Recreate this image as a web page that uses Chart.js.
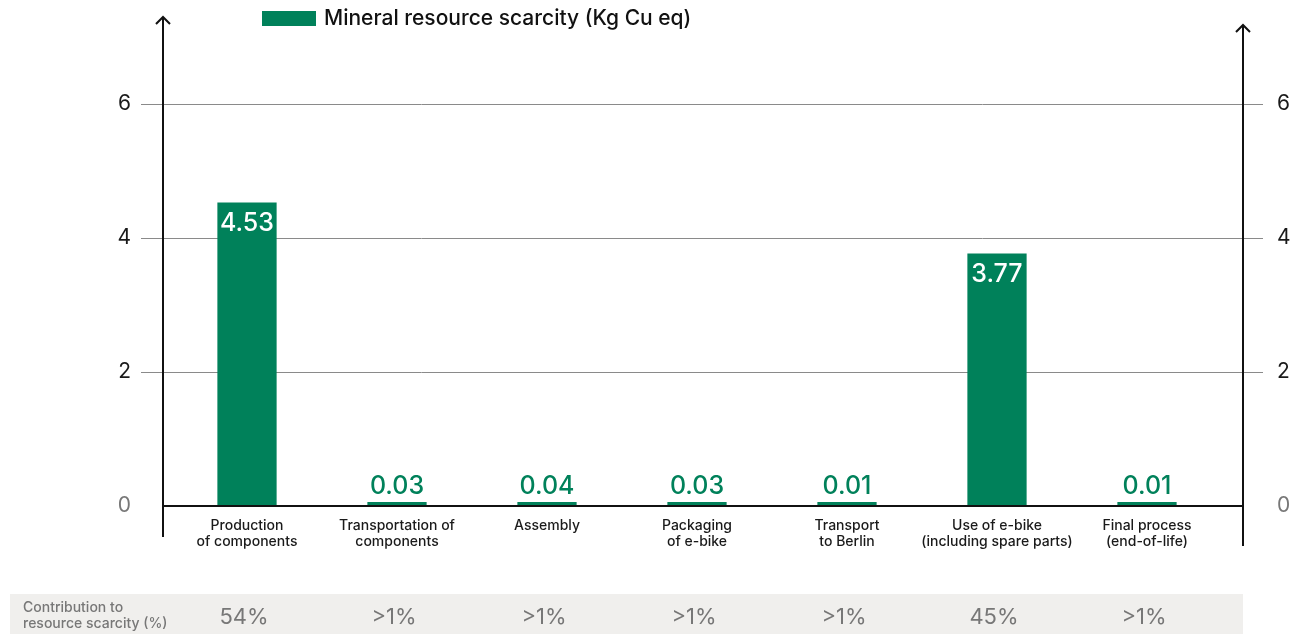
<!DOCTYPE html>
<html>
<head>
<meta charset="utf-8">
<script src="https://cdn.jsdelivr.net/npm/chart.js@4/dist/chart.umd.min.js"></script>
<style>
  body { margin: 0; background: #fff; }
  #wrap { width: 1306px; height: 634px; }
</style>
</head>
<body>
<div id="wrap"><canvas id="scarcityChart" width="1306" height="634"></canvas></div>
<script>
// Life-cycle stages and their mineral resource scarcity
const stages = [
    ['Production', 'of components'],
    ['Transportation of', 'components'],
    ['Assembly'],
    ['Packaging', 'of e-bike'],
    ['Transport', 'to Berlin'],
    ['Use of e-bike', '(including spare parts)'],
    ['Final process', '(end-of-life)']
];
const scarcity = [4.53, 0.03, 0.04, 0.03, 0.01, 3.77, 0.01];
const shares = ['54%', '>1%', '>1%', '>1%', '>1%', '45%', '>1%'];
const yTicks = [0, 2, 4, 6];
const seriesName = 'Mineral resource scarcity (Kg Cu eq)';
const shareTitle = ['Contribution to', 'resource scarcity (%)'];

const GREEN = '#00815a';
const FONT = 'Inter, "Noto Sans", sans-serif';

// keep tick padding from pushing the plot area around
function noEdgePadding(scale) {
    scale.paddingTop = 0;
    scale.paddingBottom = 0;
    scale.paddingLeft = 0;
    scale.paddingRight = 0;
}

const decor = {
    id: 'decor',
    beforeDatasetsDraw(chart) {
        const ctx = chart.ctx;
        const y = chart.scales.y;
        ctx.save();
        // share table band
        ctx.fillStyle = '#f0efed';
        ctx.fillRect(10, 594, 1233, 40);
        // horizontal gridlines
        ctx.strokeStyle = '#8a8a8a';
        ctx.lineWidth = 1;
        yTicks.forEach(v => {
            if (v === 0) return;
            const py = Math.round(y.getPixelForValue(v)) + 0.5;
            ctx.beginPath();
            ctx.moveTo(141, py);
            ctx.lineTo(1263, py);
            ctx.stroke();
        });
        ctx.restore();
    },
    afterDatasetsDraw(chart) {
        const ctx = chart.ctx;
        const meta = chart.getDatasetMeta(0);
        ctx.save();
        ctx.font = '500 25px ' + FONT;
        ctx.textAlign = 'center';
        meta.data.forEach((bar, i) => {
            const v = scarcity[i];
            if (v > 1) {
                ctx.fillStyle = '#ffffff';
                ctx.textBaseline = 'middle';
                ctx.fillText(v.toFixed(2), bar.x, bar.y + 21);
            } else {
                ctx.fillStyle = GREEN;
                ctx.textBaseline = 'alphabetic';
                ctx.fillText(v.toFixed(2), bar.x, bar.y - 8);
            }
        });
        ctx.restore();
    },
    afterDraw(chart) {
        const ctx = chart.ctx;
        const x = chart.scales.x;
        const y = chart.scales.y;
        const zero = y.getPixelForValue(0);
        ctx.save();
        ctx.strokeStyle = '#111';
        ctx.lineWidth = 2;
        // baseline
        ctx.beginPath();
        ctx.moveTo(163, zero);
        ctx.lineTo(1243, zero);
        ctx.stroke();
        // vertical axes with arrow heads
        const axis = (ax, top, bottom) => {
            ctx.beginPath();
            ctx.moveTo(ax, bottom);
            ctx.lineTo(ax, top);
            ctx.stroke();
            ctx.beginPath();
            ctx.moveTo(ax - 7, top + 7);
            ctx.lineTo(ax, top);
            ctx.lineTo(ax + 7, top + 7);
            ctx.stroke();
        };
        axis(163, 17, 537);
        axis(1243, 25, 546);

        // legend
        ctx.fillStyle = GREEN;
        ctx.fillRect(262, 11, 54, 15);
        ctx.fillStyle = '#111';
        ctx.font = '500 21px ' + FONT;
        ctx.textAlign = 'left';
        ctx.textBaseline = 'middle';
        ctx.fillText(seriesName, 324, 19);

        // share table text
        ctx.fillStyle = '#777';
        ctx.font = '500 14px ' + FONT;
        ctx.fillText(shareTitle[0], 23, 608);
        ctx.fillText(shareTitle[1], 23, 624);
        ctx.font = '22px ' + FONT;
        ctx.textAlign = 'center';
        shares.forEach((s, i) => {
            ctx.fillText(s, x.getPixelForValue(i) - 3, 617);
        });
        ctx.restore();
    }
};

const yScale = (position, padding, width) => ({
    position: position,
    min: 0,
    max: 7.3,
    grid: { display: false, drawTicks: false },
    border: { display: false },
    afterBuildTicks(scale) { scale.ticks = yTicks.map(v => ({ value: v })); },
    ticks: {
        padding: padding,
        color: c => c.tick.value === 0 ? '#777' : '#1a1a1a',
        font: { family: FONT, size: 21 }
    },
    afterFit(scale) {
        scale.width = width;
        noEdgePadding(scale);
    }
});

new Chart(document.getElementById('scarcityChart'), {
    type: 'bar',
    data: {
        labels: stages,
        datasets: [{
            label: seriesName,
            data: scarcity,
            backgroundColor: GREEN,
            borderWidth: 0,
            categoryPercentage: 1,
            barPercentage: 0.395,
            minBarLength: 4
        }]
    },
    options: {
        responsive: false,
        animation: false,
        layout: { padding: { top: 17, left: 0, right: 0, bottom: 0 } },
        scales: {
            x: {
                grid: { display: false, drawTicks: false },
                border: { display: false },
                ticks: {
                    padding: 12,
                    color: '#1a1a1a',
                    font: { family: FONT, size: 14, weight: '500', lineHeight: 1.15 },
                    maxRotation: 0,
                    autoSkip: false
                },
                afterFit(scale) {
                    scale.height = 128;
                    noEdgePadding(scale);
                }
            },
            y: yScale('left', 41, 172),
            y2: yScale('right', 55, 84)
        },
        plugins: {
            legend: { display: false },
            tooltip: { enabled: false }
        }
    },
    plugins: [decor]
});
</script>
</body>
</html>
